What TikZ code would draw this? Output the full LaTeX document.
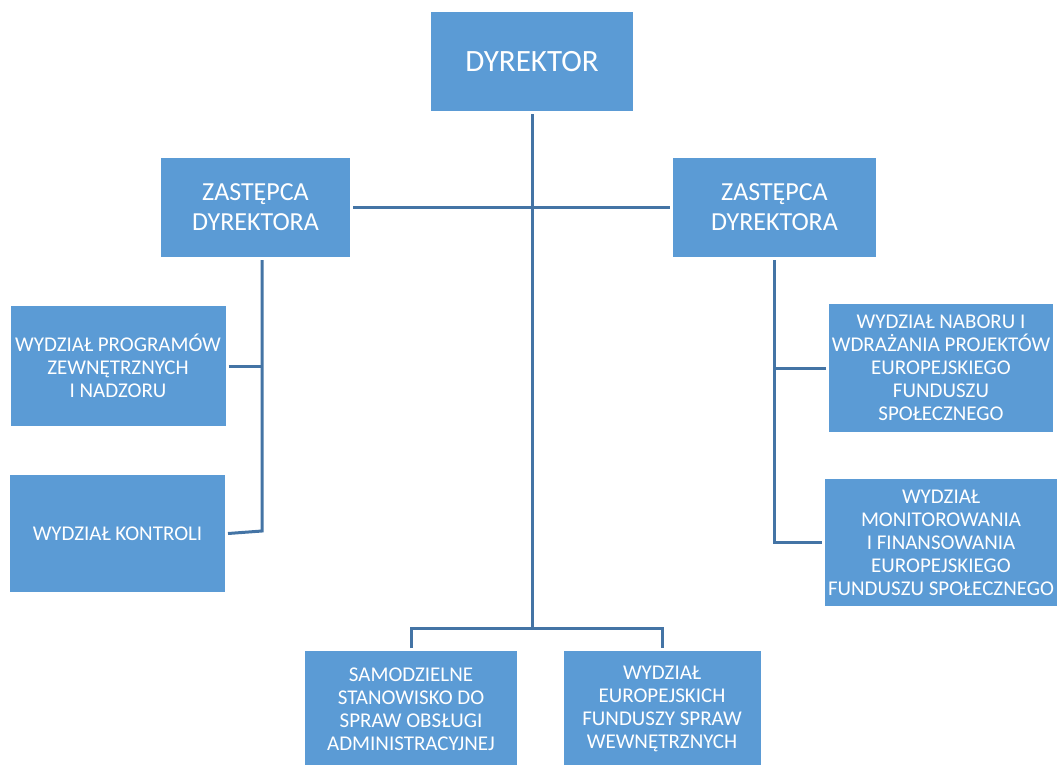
\documentclass[tikz,border=0pt]{standalone}
\usepackage{fontspec}
\setmainfont{Carlito}
\definecolor{boxblue}{HTML}{5B9BD5}
\definecolor{lineblue}{RGB}{68,116,165}
\tikzset{
	unit/.style={box, align=center, font=\fontsize{21}{23}\selectfont},
	box/.style={fill=boxblue, text=white, inner sep=0pt, outer sep=3pt},
	link/.style={draw=lineblue, line width=3pt}
}
\newcommand{\myBox}[6]{
\node[#1, minimum width=#4pt, minimum height=#5pt] (#2) at (#3) {#6};
}

\begin{document}
\begin{tikzpicture}[x=1pt, y=-1pt]
			\clip (0,0) rectangle (1059,764);
			%% top
			\myBox{box, font=\fontsize{31}{37}\selectfont}{dyr}{532,61.5}{202}{99}{DYREKTOR}
			\myBox{box, align=center, font=\fontsize{26}{30}\selectfont}{zl}{255.5,207.5}{189}{99}{ZASTĘPCA\\DYREKTORA}
			\myBox{box, align=center, font=\fontsize{26}{30}\selectfont}{zr}{774.5,207.5}{203}{99}{ZASTĘPCA\\DYREKTORA}
			%% left
			\myBox{unit}{wpz}{118,366}{215}{120}{WYDZIAŁ PROGRAMÓW\\ZEWNĘTRZNYCH\\I NADZORU}
			\myBox{unit}{wk}{117.5,533.5}{215}{117}{WYDZIAŁ KONTROLI}
			%% right
			\myBox{unit}{wn}{941,368}{224}{128}{WYDZIAŁ NABORU I\\WDRAŻANIA PROJEKTÓW\\EUROPEJSKIEGO\\FUNDUSZU\\SPOŁECZNEGO}
			\myBox{unit}{wm}{941,542.5}{232}{127}{WYDZIAŁ\\MONITOROWANIA\\I FINANSOWANIA\\EUROPEJSKIEGO\\FUNDUSZU SPOŁECZNEGO}
			%% bottom
			\myBox{unit}{ss}{411,709}{212}{116}{SAMODZIELNE\\STANOWISKO DO\\SPRAW OBSŁUGI\\ADMINISTRACYJNEJ}
			\myBox{unit}{we}{662,709}{197}{116}{WYDZIAŁ\\EUROPEJSKICH\\FUNDUSZY SPRAW\\WEWNĘTRZNYCH}

			\coordinate (hub) at (532,628);
			\coordinate (lbus) at (262,531);
			\draw[link] (dyr.south) -- (hub);
			\draw[link] (zl.east) -- (zr.west);
			\draw[link] (ss.north) |- (hub) -| (we.north);
			%% left bus
			\draw[link] (zl.south -| lbus) -- (lbus) -- (wk.east);
			\draw[link] (wpz.east) -- (wpz.east -| lbus);
			%% right bus
			\draw[link] (zr.south) |- (wm.west);
			\draw[link] (wn.west) -- (wn.west -| zr.south);
\end{tikzpicture}
\end{document}
